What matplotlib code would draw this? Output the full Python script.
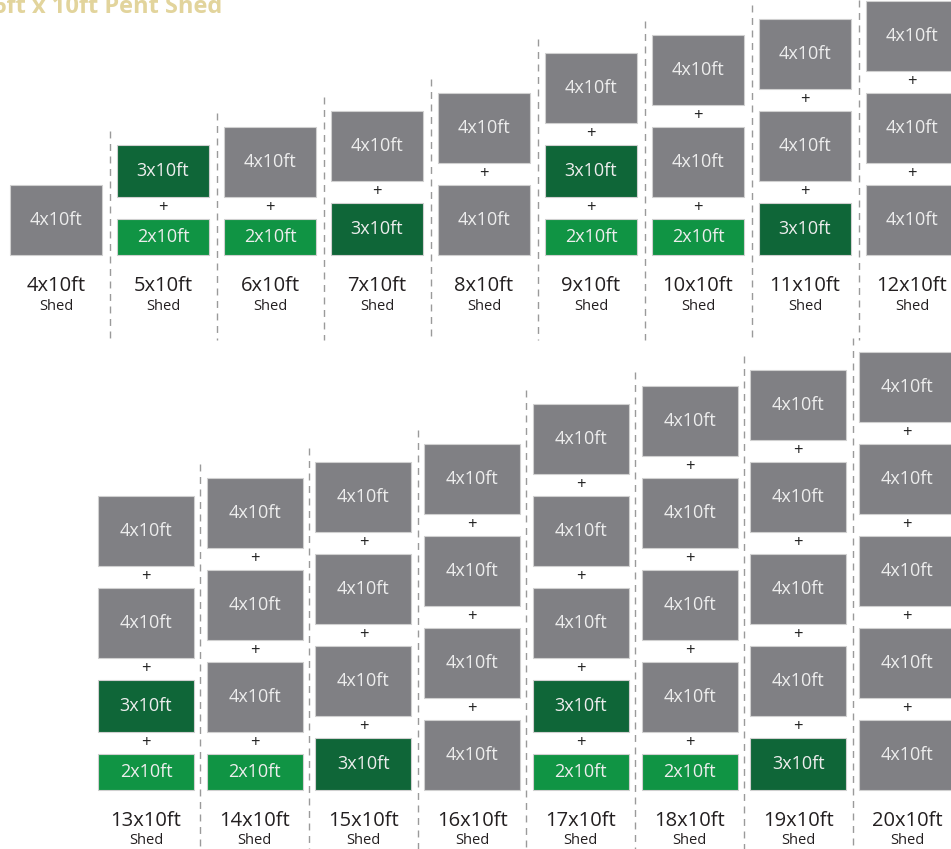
import matplotlib
matplotlib.use("Agg")
import matplotlib.pyplot as plt
from matplotlib.patches import Rectangle

# ---- data ----
title = "6ft x 10ft Pent Shed"
top_sheds = ["4x10ft", "5x10ft", "6x10ft", "7x10ft", "8x10ft", "9x10ft", "10x10ft", "11x10ft", "12x10ft"]
top_parts = [[4], [3, 2], [4, 2], [4, 3], [4, 4], [4, 3, 2], [4, 4, 2], [4, 4, 3], [4, 4, 4]]
bottom_sheds = ["13x10ft", "14x10ft", "15x10ft", "16x10ft", "17x10ft", "18x10ft", "19x10ft", "20x10ft"]
bottom_parts = [[4, 4, 3, 2], [4, 4, 4, 2], [4, 4, 4, 3], [4, 4, 4, 4], [4, 4, 4, 3, 2],
                [4, 4, 4, 4, 2], [4, 4, 4, 4, 3], [4, 4, 4, 4, 4]]
sub_label = "Shed"

# ---- style ----
colors = {4: "#808084", 3: "#0f6638", 2: "#109444"}
heights = {4: 70, 3: 52, 2: 36}
GAP = 22

W, H = 951, 849
fig = plt.figure(figsize=(W / 100, H / 100), dpi=100)
ax = fig.add_axes([0, 0, 1, 1])
ax.set_xlim(0, W)
ax.set_ylim(H, 0)
ax.axis("off")
FONT = "Open Sans"

def draw_row(sheds, parts, x0, pitch, box_w, bottom, label_y, line_end):
    tops = []
    for i, (name, comp) in enumerate(zip(sheds, parts)):
        cx = x0 + pitch * i
        y = bottom
        for j, m in enumerate(reversed(comp)):
            h = heights[m]
            ax.add_patch(Rectangle((cx - box_w / 2, y - h), box_w, h, facecolor=colors[m],
                                   edgecolor="#d0d0d0", lw=0.8))
            ax.text(cx, y - h / 2, f"{m}x10ft", ha="center", va="center", color="#ededed",
                    fontsize=13, family=FONT)
            y -= h
            if j < len(comp) - 1:
                ax.text(cx, y - GAP / 2, "+", ha="center", va="center", color="#222222",
                        fontsize=12, family=FONT)
                y -= GAP
        tops.append(y)
        ax.text(cx, label_y, name, ha="center", va="center", color="#231f20",
                fontsize=14.5, family=FONT)
        ax.text(cx, label_y + 20, sub_label, ha="center", va="center", color="#231f20",
                fontsize=10.5, family=FONT)
    for i in range(1, len(sheds)):
        lx = x0 + pitch * (i - 0.5)
        ax.plot([lx, lx], [max(tops[i] - 14, 0), line_end], color="#9a9a9a", lw=1,
                dashes=(5, 4))

draw_row(top_sheds, top_parts, 56, 107, 92, 255, 286, 340)
draw_row(bottom_sheds, bottom_parts, 146, 108.7, 96, 790, 821, 849)

ax.text(-7, 13, title, ha="left", va="baseline", color="#e2d49c", fontsize=17,
        fontweight="bold", family=FONT)

fig.savefig("out.png", dpi=100)
